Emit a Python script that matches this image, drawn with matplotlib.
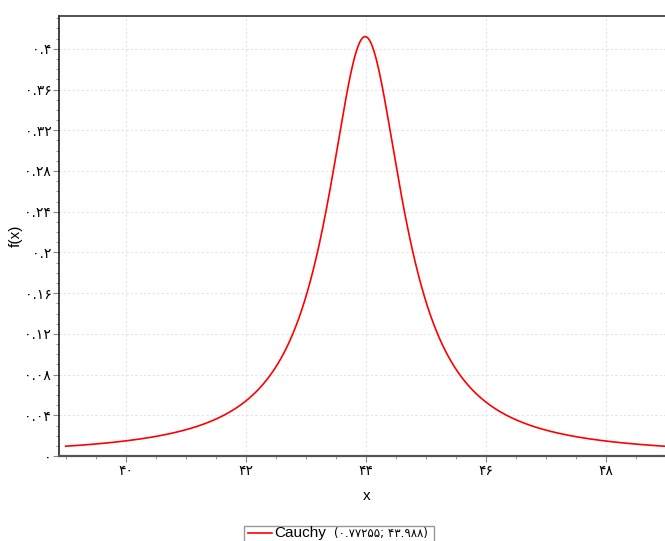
import numpy as np
import matplotlib
matplotlib.use("Agg")
import matplotlib.pyplot as plt
from matplotlib.ticker import MultipleLocator, FixedLocator
from matplotlib.patches import Rectangle
from matplotlib.lines import Line2D

# Distribution parameters shown in the legend
dist_name = "Cauchy"
gamma = 0.77255
x0 = 43.988
x_start, x_end = 39.0, 49.0

x_ticks = [40, 42, 44, 46, 48]
x_tick_labels = ["۴۰", "۴۲", "۴۴", "۴۶", "۴۸"]
y_ticks = [0, 0.04, 0.08, 0.12, 0.16, 0.2, 0.24, 0.28, 0.32, 0.36, 0.4]
y_tick_labels = ["۰", "۰.۰۴", "۰.۰۸", "۰.۱۲", "۰.۱۶", "۰.۲", "۰.۲۴", "۰.۲۸", "۰.۳۲", "۰.۳۶", "۰.۴"]
legend_params = "(۰.۷۷۲۵۵; ۴۳.۹۸۸)"

x = np.linspace(x_start, x_end, 800)
y = 1.0 / (np.pi * gamma * (1 + ((x - x0) / gamma) ** 2))

W, H = 665, 541
plt.rcParams['font.family'] = ['DejaVu Sans']
fig = plt.figure(figsize=(W / 100, H / 100), dpi=100)
ax = fig.add_axes([0.0887, 0.157, 0.9113, 0.813])

line_color = "#ff0000"
ax.plot(x, y, color=line_color, linewidth=1.2)

ax.set_xlim(38.89, 48.98)
ax.set_ylim(0, 0.432)

ax.xaxis.set_major_locator(FixedLocator(x_ticks))
ax.set_xticklabels(x_tick_labels, fontsize=10)
ax.xaxis.set_minor_locator(MultipleLocator(0.5))
ax.yaxis.set_major_locator(FixedLocator(y_ticks))
ax.set_yticklabels(y_tick_labels, fontsize=10)
ax.yaxis.set_minor_locator(MultipleLocator(0.01))

ax.tick_params(which="major", direction="out", length=4, color="#888888", pad=1.5)
ax.tick_params(axis="x", which="major", pad=2)
ax.tick_params(which="minor", direction="out", length=2.5, color="#888888")

ax.grid(True, which="major", color="#e4e4e4", linestyle=(0, (2, 2)), linewidth=0.8)
ax.set_axisbelow(True)

ax.spines["right"].set_visible(False)
ax.spines["left"].set_color("#222222")
ax.spines["left"].set_linewidth(1.2)
ax.spines["top"].set_color("#333333")
ax.spines["top"].set_linewidth(1.2)
ax.spines["bottom"].set_color("#555555")
ax.spines["bottom"].set_linewidth(1.6)
ax.spines["bottom"].set_linestyle((0, (1, 1)))

ax.set_xlabel("x", fontsize=11, family=["Liberation Sans", "DejaVu Sans"])
ax.xaxis.set_label_coords(0.508, -0.074)
ax.set_ylabel("f(x)", fontsize=11, family=["Liberation Sans", "DejaVu Sans"])
ax.yaxis.set_label_coords(-0.059, 0.50)

# custom legend box below the plot (frame runs off the bottom edge)
def fx(px):
    return px / W

def fy(py):
    return (H - py) / H

fig.add_artist(Rectangle((fx(244), fy(548)), fx(434) - fx(244), fy(526) - fy(548),
                         transform=fig.transFigure, facecolor="white",
                         edgecolor="#999999", linewidth=1.0))
fig.add_artist(Line2D([fx(248), fx(272)], [fy(533), fy(533)], transform=fig.transFigure,
                      color=line_color, linewidth=1.2))
fig.text(fx(274), fy(537), dist_name, fontsize=11, va="baseline", ha="left",
         family=["Liberation Sans", "DejaVu Sans"])
fig.text(fx(334), fy(537), legend_params, fontsize=8.5, va="baseline", ha="left",
         family=["DejaVu Sans"])

fig.savefig("out.png", dpi=100, facecolor="white")
